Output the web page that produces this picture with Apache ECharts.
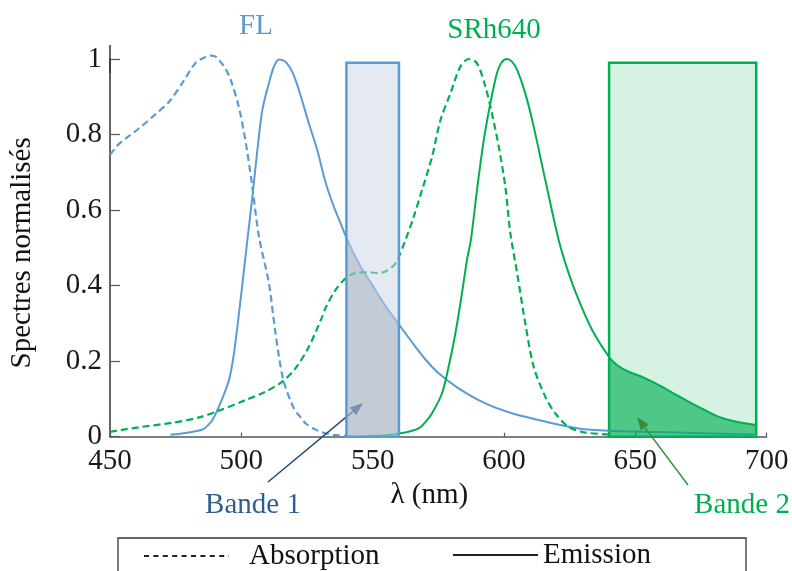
<!DOCTYPE html>
<html><head><meta charset="utf-8">
<script src="https://cdn.jsdelivr.net/npm/echarts@6/dist/echarts.min.js"></script>
<style>html,body{margin:0;padding:0;background:#fff}#c{width:792px;height:571px}</style>
</head><body><div id="c"></div>
<script>
// ---- data ----
const xTicks = [450, 500, 550, 600, 650, 700];
const yTicks = [0, 0.2, 0.4, 0.6, 0.8, 1];

const flAbsorption = [
  [450,0.746],[453,0.772],[456,0.790],[461,0.816],[467,0.852],[472.5,0.887],[477.5,0.936],
  [482.5,0.989],[486,1.004],[488.5,1.009],[490.5,1.005],[492,0.993],[494,0.974],[496,0.944],
  [499,0.874],[501.5,0.786],[504,0.671],[506.7,0.530],[510.5,0.406],[513,0.274],[516,0.150],
  [520,0.075],[522.5,0.052],[524.5,0.035],[528.5,0.018],[531,0.011],[535,0.005],[540,0.002]
];
const flEmission = [
  [473,0.005],[476,0.007],[480,0.011],[483,0.015],[485.2,0.019],[487,0.028],[489,0.044],
  [492,0.088],[495.3,0.150],[497.2,0.221],[499.1,0.327],[501,0.441],[502.3,0.521],[504.2,0.635],
  [506.1,0.759],[508,0.865],[510.5,0.936],[512.4,0.980],[514.3,0.999],[516.8,0.993],[519.4,0.966],
  [521.9,0.918],[525.7,0.830],[528.9,0.759],[532,0.675],[535.2,0.609],[537.5,0.570],[540,0.527],
  [545,0.455],[550,0.400],[555,0.345],[560,0.297],[566.3,0.238],[570,0.205],[575.1,0.168],
  [582.7,0.128],[592.9,0.088],[603,0.062],[615.7,0.040],[628.4,0.022],[639.8,0.016],
  [666.4,0.011],[696,0.006]
];
const srAbsorption = [
  [450,0.013],[461,0.025],[473.8,0.037],[483.9,0.051],[491.5,0.069],[501.6,0.097],[509.2,0.119],
  [515.6,0.146],[520.6,0.181],[525.7,0.238],[530.8,0.318],[532,0.340],[535.5,0.385],[539,0.415],
  [542,0.430],[544.7,0.434],[548.5,0.435],[552.3,0.433],[555.5,0.440],[558.7,0.459],[562.5,0.521],
  [565.6,0.582],[568.8,0.653],[572.6,0.741],[575.8,0.838],[579.6,0.909],[583.4,0.980],[586.5,1.000],
  [589.7,0.989],[592.9,0.927],[595.4,0.856],[598,0.768],[600.5,0.662],[602.4,0.539],[605,0.433],
  [608.1,0.300],[611.3,0.185],[615.7,0.106],[619.5,0.062],[624.6,0.026],[631,0.011],[639.8,0.006]
];
const srEmission = [
  [548,0.002],[555,0.004],[560.6,0.009],[564,0.014],[567.5,0.022],[570,0.038],[572.6,0.062],
  [576.4,0.115],[578.9,0.185],[581.5,0.274],[584,0.380],[585.9,0.468],[587.4,0.521],[589.7,0.653],
  [592.3,0.786],[594.8,0.883],[597.3,0.962],[599,0.990],[601.1,1.000],[603,0.993],[605,0.971],
  [608.1,0.909],[611.3,0.821],[615.7,0.680],[620.8,0.521],[624.6,0.433],[628.4,0.362],[633.5,0.283],
  [640,0.211],[643,0.190],[647.4,0.172],[652,0.160],[658.8,0.137],[664,0.117],[670.2,0.093],
  [676,0.072],[681.6,0.053],[688,0.040],[696,0.031]
];
const band1 = [540, 560];
const band2 = [640, 696];
const bandTop = 0.99;
const legendLabels = ['Absorption', 'Emission'];
const dyeLabels = ['FL', 'SRh640'];
const bandLabels = ['Bande 1', 'Bande 2'];
const xName = 'λ (nm)';
const yName = 'Spectres normalisés';

// ---- styling ----
const FONT = '"Liberation Serif", "Times New Roman", serif';
const BLUE = '#5b9bd5', GREEN = '#00b050';
const DASH = [7, 4];

const inBand = (d, b) => d.filter(p => p[0] >= b[0] && p[0] <= b[1]);

const chart = echarts.init(document.getElementById('c'), null, {renderer: 'canvas'});

const legendCommon = {
  itemWidth: 85, itemHeight: 20, selectedMode: false, padding: 0,
  itemStyle: {color: 'rgba(0,0,0,0)', borderWidth: 0, opacity: 0},
  textStyle: {fontFamily: FONT, fontSize: 29, color: '#111'}
};

const option = {
  animation: false,
  backgroundColor: '#fff',
  grid: {left: 109.2, right: 25.3, top: 59, bottom: 134.3, containLabel: false},
  xAxis: {
    type: 'value', min: xTicks[0], max: xTicks[xTicks.length - 1], interval: 50,
    name: xName, nameLocation: 'middle', nameGap: 42,
    nameTextStyle: {fontFamily: FONT, fontSize: 29, color: '#111', padding: [0, 18, 0, 0]},
    axisLine: {show: true, lineStyle: {color: '#555', width: 1.5}},
    axisTick: {show: true, inside: true, length: 4, lineStyle: {color: '#555', width: 1.2}},
    axisLabel: {fontFamily: FONT, fontSize: 29, color: '#1a1a1a', margin: 10},
    splitLine: {show: false}
  },
  yAxis: {
    type: 'value', min: yTicks[0], max: yTicks[yTicks.length - 1], interval: 0.2,
    name: yName, nameLocation: 'middle', nameGap: 73,
    nameTextStyle: {fontFamily: FONT, fontSize: 29, color: '#111', padding: [0, 10, 0, 0]},
    axisLine: {show: true, lineStyle: {color: '#333', width: 1.5},
      symbol: ['none', 'rect'], symbolSize: [1.5, 28], symbolOffset: [0, 0]},
    axisTick: {show: true, inside: true, length: 10, lineStyle: {color: '#555', width: 1.2}},
    axisLabel: {fontFamily: FONT, fontSize: 29, color: '#1a1a1a', margin: 8},
    splitLine: {show: false}
  },
  legend: [
    Object.assign({}, legendCommon, {data: [legendLabels[0]], left: 143, top: 541.5,
      textStyle: {fontFamily: FONT, fontSize: 29, color: '#111', padding: [0, 0, 0, 15]}}),
    Object.assign({}, legendCommon, {data: [legendLabels[1]], left: 452, top: 540.5})
  ],
  series: [
    // area under FL emission inside band 1 + band 1 rectangle
    {type: 'line', name: 'fill1', data: inBand(flEmission, band1), symbol: 'none', silent: true, z: 1,
     lineStyle: {width: 0}, areaStyle: {color: '#bbc3c9', opacity: 1}, clip: false,
     markArea: {silent: true, z: 4, label: {show: false},
       itemStyle: {color: 'rgba(203,211,229,0.5)', borderColor: BLUE, borderWidth: 2.5},
       data: [[{coord: [band1[0], 0]}, {coord: [band1[1], bandTop]}]]}},
    // area under SRh640 emission inside band 2 + band 2 rectangle
    {type: 'line', name: 'fill2', data: inBand(srEmission, band2), symbol: 'none', silent: true, z: 2.5,
     lineStyle: {width: 0}, areaStyle: {color: 'rgba(0,176,80,0.63)', opacity: 1}, clip: false,
     markArea: {silent: true, z: 1, label: {show: false},
       itemStyle: {color: 'rgba(0,176,80,0.16)', borderColor: GREEN, borderWidth: 2.5},
       data: [[{coord: [band2[0], 0]}, {coord: [band2[1], bandTop]}]]}},
    {type: 'line', name: 'FL abs', data: flAbsorption, symbol: 'none', smooth: 0.3, z: 2, clip: false, silent: true,
     lineStyle: {color: BLUE, width: 2.2, type: DASH}},
    {type: 'line', name: 'FL em', data: flEmission, symbol: 'none', smooth: 0.3, z: 2, clip: false, silent: true,
     lineStyle: {color: BLUE, width: 2}},
    {type: 'line', name: 'SR abs', data: srAbsorption, symbol: 'none', smooth: 0.3, z: 3, clip: false, silent: true,
     lineStyle: {color: GREEN, width: 2.2, type: DASH}},
    {type: 'line', name: 'SR em', data: srEmission, symbol: 'none', smooth: 0.3, z: 3, clip: false, silent: true,
     lineStyle: {color: GREEN, width: 2}},
    // legend entries
    {type: 'line', name: legendLabels[0], data: [], symbol: 'none', color: '#222',
     lineStyle: {color: '#222', width: 1.2, type: [5, 4.4]}},
    {type: 'line', name: legendLabels[1], data: [], symbol: 'none', color: '#222',
     lineStyle: {color: '#222', width: 1.2}}
  ]
};
chart.setOption(option);

// ---- annotations ----
function arrow(x1, y1, x2, y2, color, z) {
  const dx = x2 - x1, dy = y2 - y1, L = Math.hypot(dx, dy);
  const ux = dx / L, uy = dy / L, hl = 13, hw = 5;
  const bx = x2 - ux * hl, by = y2 - uy * hl;
  return [
    {type: 'line', z: z, silent: true, shape: {x1: x1, y1: y1, x2: bx, y2: by},
     style: {stroke: color, lineWidth: 1.5}},
    {type: 'polygon', z: z, silent: true,
     shape: {points: [[x2, y2], [bx - uy * hw, by + ux * hw], [bx + uy * hw, by - ux * hw]]},
     style: {fill: color}}
  ];
}
function txt(s, x, y, color, z) {
  return {type: 'text', z: z || 10, silent: true, x: x, y: y,
    style: {text: s, fill: color, font: '29px ' + FONT, align: 'center', verticalAlign: 'middle',
            textAlign: 'center', textVerticalAlign: 'middle'}};
}
chart.setOption({
  graphic: [
    {type: 'rect', z: 10, silent: true, shape: {x: 118, y: 538, width: 628, height: 60},
     style: {fill: 'none', stroke: '#333', lineWidth: 1.3}},
    txt(dyeLabels[0], 256, 26, BLUE),
    txt(dyeLabels[1], 494, 30, GREEN),
    txt(bandLabels[0], 253, 505, '#2f5f8f'),
    txt(bandLabels[1], 742, 505, GREEN),
    ...arrow(268, 482, 363, 403, '#1f4e79', 3.5),
    ...arrow(688, 485, 637, 417, '#3c8c40', 5)
  ]
});
</script></body></html>
